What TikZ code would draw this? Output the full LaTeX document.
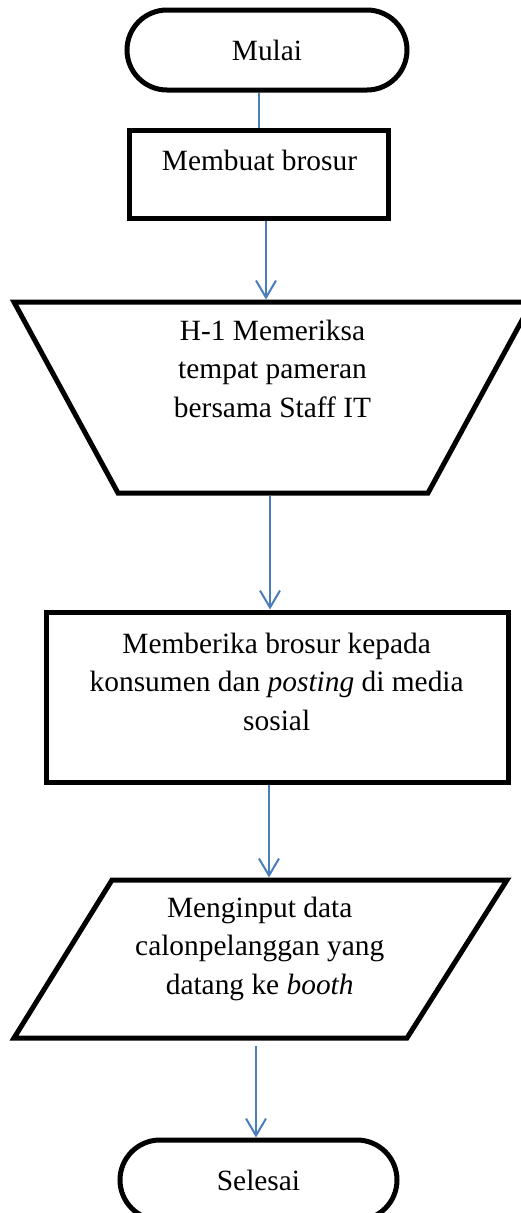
\documentclass[tikz,border=0pt]{standalone}
\usepackage{fontspec}
\setmainfont{Liberation Serif}
\usetikzlibrary{shapes.misc,arrows.meta,calc}
\definecolor{flowblue}{HTML}{4A7EBB}
\tikzset{
  outline/.style={draw=black, line width=5pt, fill=white},
  terminal/.style={outline, rounded rectangle, minimum width=#1, minimum height=80pt},
  process/.style={outline, rectangle},
  words/.style={font=\fontsize{29.4}{38.5}\selectfont, align=center, anchor=base},
  flow/.style={draw=flowblue, line width=2pt},
  flowarrow/.style={flow, -{Straight Barb[length=17pt,width=20pt]}}
}
\begin{document}
\begin{tikzpicture}[x=1pt,y=-1pt, every node/.style={inner sep=0pt}]
    \useasboundingbox (0,0) rectangle (520,1213);

    % shapes
    \node [terminal=280pt, font=\fontsize{29.4}{38.5}\selectfont] (start) at (267,50) {Mulai};
    \node [process, minimum width=259pt, minimum height=88pt] (brosur) at (258.5,174) {};
    \draw [outline] (14,302) -- (532,302) -- (428,493) -- (118,493) -- cycle;
    \coordinate (periksaN) at (270,299.5);
    \coordinate (periksaS) at (270,495.5);
    \node [process, minimum width=462pt, minimum height=170pt] (beri) at (277,697) {};
    \draw [outline] (112,880) -- (507,880) -- (407,1038) -- (14,1038) -- cycle;
    \coordinate (inputN) at (269,877.5);
    \coordinate (inputS) at (256,1040.5);
    \node [terminal=277pt, font=\fontsize{29.4}{38.5}\selectfont] (selesai) at (258.5,1180) {Selesai};

    % texts (base = last line)
    \node [words] (brosurText) at (259.5,170) {Membuat brosur};
    \node [words] (periksaText) at (272.5,417) {H-1 Memeriksa\\tempat pameran\\bersama Staff IT};
    \node [words] (beriText) at (276.7,730) {Memberika brosur kepada\\konsumen dan \textit{posting} di media\\sosial};
    \node [words] (inputText) at (259.7,994) {Menginput data\\calonpelanggan yang\\datang ke \textit{booth}};

    % connectors
    \draw [flow] (start.south -| brosur.north) -- (brosur.north);
    \draw [flowarrow] ($(brosur.south)+(7.5,0)$) -- ($(brosur.south |- periksaN)+(7.5,0)$);
    \draw [flowarrow] (periksaS) -- (periksaS |- beri.north);
    \draw [flowarrow] (beri.south -| inputN) -- (inputN);
    \draw [flowarrow, shorten <=5pt] (inputS) -- (inputS |- selesai.north);
\end{tikzpicture}
\end{document}
